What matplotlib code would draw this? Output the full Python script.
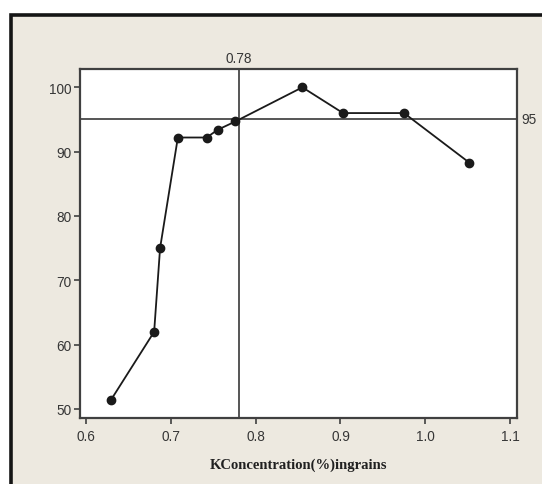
import matplotlib
matplotlib.use("Agg")
import matplotlib.pyplot as plt
from matplotlib.patches import Rectangle

# Data
k_conc = [0.629, 0.680, 0.687, 0.708, 0.742, 0.755, 0.776, 0.855, 0.903, 0.975, 1.052]
yield_pct = [51.4, 62.0, 75.0, 92.2, 92.2, 93.4, 94.7, 100.0, 96.0, 96.0, 88.3]
x_ref = 0.78
y_ref = 95
x_ticks = [0.6, 0.7, 0.8, 0.9, 1.0, 1.1]
x_ticklabels = ["0.6", "0.7", "0.8", "0.9", "1.0", "1.1"]
y_ticks = [50, 60, 70, 80, 90, 100]
y_ticklabels = ["50", "60", "70", "80", "90", "100"]
x_label = "KConcentration(%)ingrains"

W, H = 542, 485
fig = plt.figure(figsize=(W / 100, H / 100), dpi=100)
fig.patch.set_facecolor("white")

# outer beige panel with dark frame (extends past right/bottom edge)
bg = Rectangle((10.5 / W, -0.1), 1.2, 1 - 15.5 / H + 0.1, transform=fig.transFigure,
               facecolor="#EDE9E0", edgecolor="#151515", linewidth=2.6, zorder=-10)
fig.add_artist(bg)

ax = fig.add_axes([80.2 / W, 1 - 419.3 / H, (517 - 80.2) / W, (419.3 - 70) / H])
ax.set_zorder(1)
ax.set_facecolor("white")

tick_fam = ["Liberation Sans", "DejaVu Sans"]
tick_size = 9.8
tick_color = "#363636"
tick_font = dict(family=tick_fam, size=tick_size)

ax.plot(k_conc, yield_pct, color="#1a1a1a", linewidth=1.3, marker="o",
        markersize=6, markerfacecolor="#1a1a1a", markeredgecolor="#1a1a1a", zorder=3)
ax.axvline(x_ref, color="#555555", linewidth=1.4, zorder=2)
ax.axhline(y_ref, color="#555555", linewidth=1.4, zorder=2)

ax.set_xlim(0.5927, 1.1084)
ax.set_ylim(48.55, 102.85)

ax.set_xticks(x_ticks)
ax.set_xticklabels(x_ticklabels, fontdict=tick_font, color=tick_color)
ax.set_yticks(y_ticks)
ax.set_yticklabels(y_ticklabels, fontdict=tick_font, color=tick_color)
ax.tick_params(axis="both", direction="out", length=4, width=1.2, color="#404040", pad=2)
ax.tick_params(axis="x", pad=4)

for s in ax.spines.values():
    s.set_color("#404040")
    s.set_linewidth(1.6)

ax.annotate(f"{x_ref:.2f}", xy=(x_ref, 1), xycoords=("data", "axes fraction"),
            xytext=(0, 3), textcoords="offset points", ha="center", va="bottom",
            color=tick_color, family=tick_fam, size=tick_size)
ax.annotate(f"{y_ref}", xy=(1, y_ref), xycoords=("axes fraction", "data"),
            xytext=(3, 0), textcoords="offset points", ha="left", va="center",
            color=tick_color, family=tick_fam, size=tick_size)

ax.set_xlabel(x_label, family=["Liberation Serif", "DejaVu Serif"], fontweight="bold",
              size=10.5, color="#202020", labelpad=10)

fig.savefig("out.png", dpi=100, facecolor=fig.get_facecolor())
